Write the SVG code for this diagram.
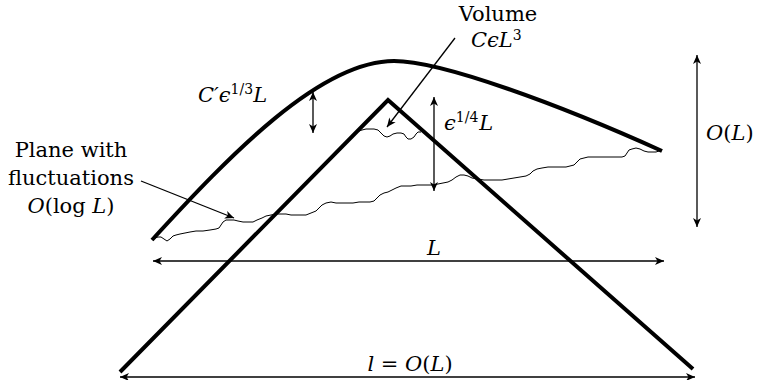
<svg xmlns="http://www.w3.org/2000/svg" width="764" height="380" viewBox="0 0 764 380">
<style>
.thick{fill:none;stroke:#000;stroke-width:4;stroke-linejoin:miter}
.arr{fill:none;stroke:#000;stroke-width:1.3}
.wave{fill:none;stroke:#000;stroke-width:1;stroke-linejoin:round}
.lbl{font-family:'DejaVu Serif','Liberation Serif',serif;font-size:21px;fill:#000}
.m{font-style:italic}
.sup{font-size:14px;font-style:normal}
</style>
<defs>
<marker id="ah" viewBox="-10 -5 12 10" refX="0" refY="0" markerWidth="12" markerHeight="10" markerUnits="userSpaceOnUse" orient="auto-start-reverse">
<path d="M0,0 L-9,-4 L-6.5,0 L-9,4 Z" fill="#000"/>
</marker>
</defs>
<rect width="764" height="380" fill="#fff"/>
<g id="surface">
<path class="thick" d="M152,240 C230,155 320,61 394,61 C442,61 560,105 662,151"/>
</g>
<g id="cone">
<polyline class="thick" points="120,372 388,100 693,369"/>
</g>
<g id="plane">
<polyline class="wave" points="152,240 155,238 158,237 161,237 164,239 167,241 170,239 173,236 176,235 180,234 185,233 190,232 196,231 203,231 210,230 216,229 219,228 221,225 223,222 226,220 230,220 234,220 238,221 243,222 248,222 253,222 257,220 262,218 266,216 271,215 276,214 281,214 286,214 291,215 296,215 301,215 306,215 311,213 316,211 319,208 322,205 326,203 331,202 336,203 341,203 347,203 353,203 359,202 365,202 370,202 374,201 377,198 380,195 384,193 388,192 392,190 396,188 401,186 406,186 411,186 417,185 423,185 428,185 433,185 438,184 443,183 448,182 452,180 456,177 460,175 464,175 468,176 472,178 478,179 484,180 490,180 496,180 502,180 508,179 514,178 520,177 526,176 530,174 533,171 537,169 542,168 548,167 554,167 560,167 566,167 570,166 574,165 577,162 580,159 584,158 588,157 594,157 600,157 606,157 612,157 618,157 622,157 625,156 627,153 629,150 632,149 636,148 640,149 644,151 648,152 652,152 656,152 659,151 662,150"/>
</g>
<g id="volume">
<polyline class="wave" points="359,131 362,130 366,129 370,129 374,129 378,130 381,133 384,136 387,137 390,136 393,134 397,133 401,133 404,134 406,137 408,139 411,139 414,137 416,134 418,132 421,132"/>
</g>
<g id="connectors">
<line class="arr" x1="455" y1="38" x2="387" y2="127" marker-end="url(#ah)"/>
<line class="arr" x1="141" y1="181" x2="234" y2="218" marker-end="url(#ah)"/>
<line class="arr" x1="313" y1="92" x2="313" y2="133" marker-start="url(#ah)" marker-end="url(#ah)"/>
<line class="arr" x1="434" y1="97" x2="434" y2="191" marker-start="url(#ah)" marker-end="url(#ah)"/>
<line class="arr" x1="697" y1="55" x2="697" y2="227" marker-start="url(#ah)" marker-end="url(#ah)"/>
<line class="arr" x1="153" y1="261" x2="664" y2="261" marker-start="url(#ah)" marker-end="url(#ah)"/>
<line class="arr" x1="120" y1="377" x2="695" y2="377" marker-start="url(#ah)" marker-end="url(#ah)"/>
</g>
<g id="labels">
<text class="lbl"><tspan x="498" y="21" text-anchor="middle">Volume</tspan><tspan class="m" x="471" y="47">CϵL</tspan><tspan class="sup" dy="-7">3</tspan></text>
<text class="lbl m" x="198" y="102">C′ϵ<tspan class="sup" dy="-8">1/3</tspan><tspan dy="8">L</tspan></text>
<text class="lbl m" x="444" y="130">ϵ<tspan class="sup" dy="-8" font-size="15">1/4</tspan><tspan dy="8" dx="1">L</tspan></text>
<text class="lbl m" x="706" y="140">O<tspan font-style="normal">(</tspan>L<tspan font-style="normal">)</tspan></text>
<text class="lbl" x="71" y="157" text-anchor="middle">Plane with</text>
<text class="lbl" x="71" y="185" text-anchor="middle">fluctuations</text>
<text class="lbl" x="71" y="213" text-anchor="middle"><tspan class="m">O</tspan>(log <tspan class="m">L</tspan>)</text>
<text class="lbl m" x="434" y="255" text-anchor="middle">L</text>
<text class="lbl" x="410" y="371" text-anchor="middle"><tspan class="m">l</tspan> = <tspan class="m">O</tspan>(<tspan class="m">L</tspan>)</text>
</g>
</svg>
